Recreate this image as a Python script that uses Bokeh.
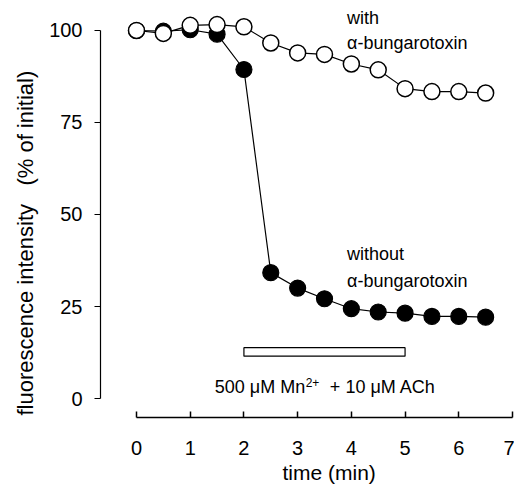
from bokeh.plotting import figure
from bokeh.models import Range1d, Label, FixedTicker, Title
from bokeh.embed import file_html
from bokeh.resources import INLINE

time_min = [0, 0.5, 1, 1.5, 2, 2.5, 3, 3.5, 4, 4.5, 5, 5.5, 6, 6.5]
with_btx = [100, 99.2, 101.4, 101.6, 101, 96.6, 93.9, 93.5, 90.9, 89.3, 84.2, 83.4, 83.4, 83.0]
without_btx = [100, 99.8, 100.2, 99.0, 89.4, 34.2, 30.0, 27.1, 24.4, 23.5, 23.2, 22.3, 22.3, 22.1]
bar_start, bar_end = 2, 5
bar_low, bar_high = 11.5, 13.8
x_ticks = [0, 1, 2, 3, 4, 5, 6, 7]
y_ticks = [0, 25, 50, 75, 100]

FONT = "Liberation Sans"

p = figure(width=514, height=491, output_backend="svg", toolbar_location=None,
           x_range=Range1d(-0.67, 7.0), y_range=Range1d(-5.16, 105.43),
           min_border_left=100, min_border_right=2, min_border_top=10, min_border_bottom=74)
p.outline_line_color = None
p.grid.visible = False
p.background_fill_color = "white"
p.border_fill_color = "white"

# stimulus bar
p.quad(left=[bar_start], right=[bar_end], bottom=[bar_low], top=[bar_high],
       fill_color="white", line_color="black", line_width=1.2)

# without bungarotoxin (filled)
p.line(time_min, without_btx, line_color="black", line_width=1.2)
p.scatter(time_min, without_btx, size=16, marker="circle", fill_color="black",
          line_color="black", line_width=1.2)
# with bungarotoxin (open)
p.line(time_min, with_btx, line_color="black", line_width=1.2)
p.scatter(time_min, with_btx, size=16, marker="circle", fill_color="white",
          line_color="black", line_width=1.5)

def lab(x, y, t, size="18px", align="left"):
    p.add_layout(Label(x=x, y=y, text=t, text_font=FONT, text_font_size=size,
                       text_color="black", text_align=align, text_baseline="middle"))

lab(3.92, 103.5, "with")
lab(3.92, 96.5, "\u03b1-bungarotoxin")
lab(3.92, 39.3, "without")
lab(3.92, 31.8, "\u03b1-bungarotoxin")
lab(3.14, 3.0, "500 \u03bcM Mn", align="right")
lab(3.15, 4.4, "2+", size="12px")
lab(3.60, 3.0, "+ 10 \u03bcM ACh")

xa = p.xaxis[0]
xa.ticker = FixedTicker(ticks=x_ticks)
xa.bounds = (0, 7)
xa.major_tick_in = 6
xa.major_tick_out = 0
xa.minor_tick_line_color = None
xa.axis_line_width = 1.5
xa.major_tick_line_width = 1.5
xa.major_label_standoff = 23
xa.major_label_text_font = FONT
xa.major_label_text_font_size = "20px"
xa.major_label_text_color = "black"

ya = p.yaxis[0]
ya.ticker = FixedTicker(ticks=y_ticks)
ya.bounds = (0, 100)
ya.major_tick_in = 0
ya.major_tick_out = 6
ya.minor_tick_line_color = None
ya.axis_line_width = 1.2
ya.major_label_standoff = 12
ya.major_label_text_font = FONT
ya.major_label_text_font_size = "20px"
ya.major_label_text_color = "black"

# axis titles as side titles (left-aligned with offsets, like the reference)
p.add_layout(Title(text="time (min)", align="left", offset=182, standoff=2,
                   text_font=FONT, text_font_size="21px", text_font_style="normal",
                   text_color="black"), "below")
p.add_layout(Title(text="fluorescence intensity\u00a0\u00a0\u00a0(% of initial)",
                   align="left", offset=2, standoff=18,
                   text_font=FONT, text_font_size="22px", text_font_style="normal",
                   text_color="black"), "left")

open("out.html", "w").write(file_html(p, INLINE))
